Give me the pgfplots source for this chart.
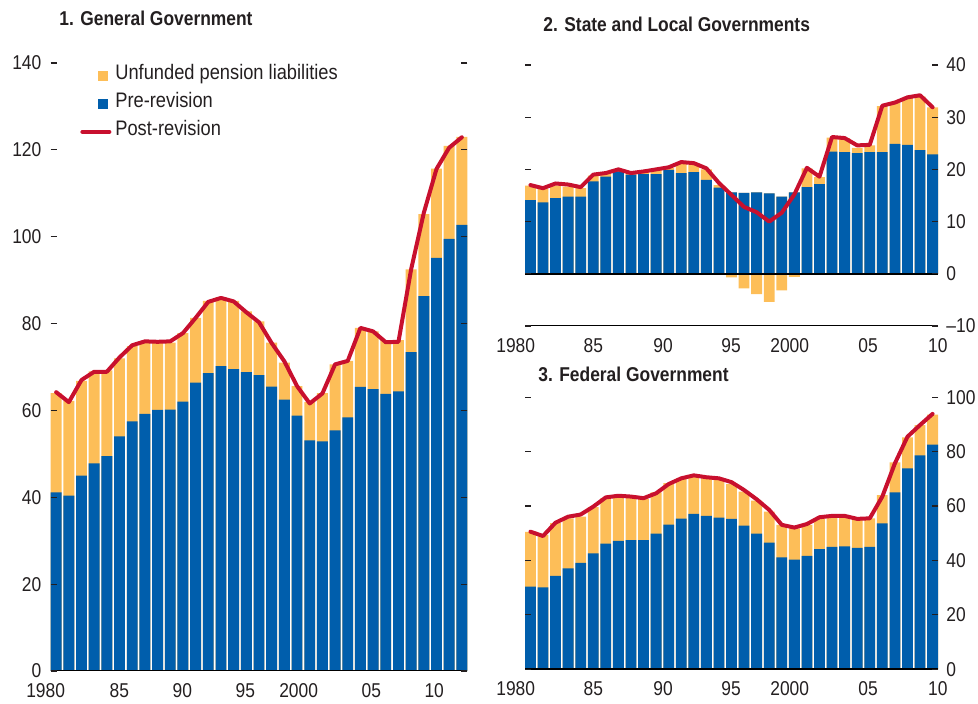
\documentclass[border=0pt]{standalone}
\usepackage{fontspec}
\setmainfont[FakeStretch=0.87]{Liberation Sans}
\usepackage{pgfplots}
\usepackage{pgfplotstable}
\pgfplotsset{compat=1.18}
\definecolor{imfblue}{RGB}{0,94,172}
\definecolor{imfyellow}{RGB}{253,190,88}
\definecolor{imfred}{RGB}{200,16,46}
\definecolor{txt}{RGB}{35,31,32}

% General government: pre-revision, top of bar (pre + unfunded), post-revision
\pgfplotstableread{
year pre top post
1980 41.1 64.0 64.2
1981 40.4 62.2 61.9
1982 45.0 66.8 67.0
1983 47.8 69.0 68.9
1984 49.5 69.2 68.9
1985 54.0 72.0 72.2
1986 57.5 74.8 75.0
1987 59.2 75.6 75.9
1988 60.1 75.6 75.8
1989 60.2 75.6 75.9
1990 62.0 77.8 77.8
1991 66.4 81.3 81.3
1992 68.6 85.2 85.0
1993 70.2 86.1 85.9
1994 69.5 85.2 85.1
1995 68.8 82.8 82.6
1996 68.1 80.5 80.3
1997 65.5 75.6 75.5
1998 62.5 71.0 71.3
1999 58.8 65.6 65.6
2000 53.1 61.9 61.6
2001 52.9 64.0 63.9
2002 55.4 70.6 70.6
2003 58.4 71.4 71.4
2004 65.4 79.0 79.0
2005 64.9 78.2 78.2
2006 63.8 76.2 75.7
2007 64.4 76.2 75.8
2008 73.4 92.5 92.5
2009 86.3 105.2 105.5
2010 95.1 115.7 115.6
2011 99.5 120.9 120.5
2012 102.7 123.0 122.9
}\dataA

% State and local: pre, top (pre + positive unfunded), negative unfunded, post
\pgfplotstableread{
year pre top neg post
1980 14.1 16.9 0 17.0
1981 13.7 16.3 0 16.4
1982 14.5 16.9 0 17.3
1983 14.8 16.7 0 17.1
1984 14.8 16.4 0 16.6
1985 17.7 18.8 0 19.0
1986 18.6 19.1 0 19.3
1987 19.6 19.8 0 20.0
1988 19.0 19.3 -0.2 19.3
1989 19.1 19.5 0 19.6
1990 19.1 19.9 0 20.0
1991 19.9 20.3 0 20.4
1992 19.3 21.1 0 21.4
1993 19.5 20.9 0 21.2
1994 18.0 20.0 0 20.2
1995 16.5 17.0 0 17.4
1996 15.6 15.6 -0.7 15.1
1997 15.5 15.5 -2.8 12.8
1998 15.6 15.6 -3.9 11.8
1999 15.4 15.4 -5.4 10.0
2000 14.8 14.8 -3.2 11.7
2001 15.6 15.6 -0.6 15.2
2002 16.6 20.2 0 20.3
2003 17.2 18.5 0 18.6
2004 23.4 26.1 0 26.2
2005 23.3 26.0 0 26.0
2006 23.1 24.1 0 24.6
2007 23.3 24.6 0 24.7
2008 23.3 32.1 0 32.2
2009 24.9 32.7 0 32.8
2010 24.7 33.7 0 33.8
2011 23.7 34.0 0 34.2
2012 22.9 31.9 0 31.9
}\dataB

% Federal government
\pgfplotstableread{
year pre top post
1980 30.4 50.5 50.6
1981 30.1 49.4 49.0
1982 34.3 53.7 53.9
1983 37.1 55.5 56.1
1984 39.1 56.1 56.9
1985 42.6 59.6 59.8
1986 46.2 62.9 63.2
1987 47.2 63.5 63.8
1988 47.5 63.1 63.5
1989 47.5 62.6 62.9
1990 49.9 65.0 64.7
1991 53.2 68.4 68.1
1992 55.4 70.2 70.2
1993 57.1 71.1 71.3
1994 56.4 70.2 70.6
1995 55.8 69.6 70.2
1996 55.3 68.1 68.8
1997 52.8 65.3 65.9
1998 49.9 62.0 62.5
1999 46.6 58.0 58.6
2000 41.1 53.1 53.1
2001 40.3 51.8 52.1
2002 41.7 53.1 53.4
2003 44.2 55.5 55.9
2004 45.0 56.1 56.4
2005 45.2 56.1 56.4
2006 44.6 54.9 55.3
2007 45.0 55.5 55.5
2008 53.6 64.0 63.5
2009 65.0 76.1 75.7
2010 73.9 85.3 85.5
2011 78.6 89.8 89.8
2012 82.6 93.6 93.9
}\dataC

\pgfplotsset{
  panel/.style={
    scale only axis,
    axis on top,
    axis line style={draw=none},
    xmin=1979.57, xmax=2012.43,
    ybar, bar width=0.86,
    major x tick style={draw=none},
    tick align=inside,
    major tick length=3pt,
    major y tick style={draw=txt, line width=0.6pt},
    /pgf/number format/assume math mode=true,
    tick label style={font=\fontsize{10}{12}\selectfont, text=txt},
    xticklabel style={anchor=north, inner sep=0pt, yshift=-6pt},
  },
  yel/.style={fill=imfyellow, draw=none, bar shift=0pt},
  blu/.style={fill=imfblue, draw=none, bar shift=0pt},
  redl/.style={imfred, line width=2pt, sharp plot, mark=none, line join=round, line cap=round},
}

\begin{document}
\begin{tikzpicture}
\useasboundingbox (0,0) rectangle (489pt,352pt);

% Panel 1
\begin{axis}[panel,
  at={(25.35pt,16.5pt)}, anchor=south west,
  width=208.3pt, height=304pt,
  ymin=0, ymax=140, ytick={0,20,...,140},
  yticklabels={0,20,40,60,80,100,120,140},
  yticklabel pos=left, ytick pos=both,
  yticklabel style={anchor=east, inner sep=0pt, xshift=-4.5pt},
  xtick={1980.70,1985.75,1990.71,1995.68,2000.65,2005.62,2010.58},
  xticklabels={\llap{1980},\llap{85},\llap{90},\llap{95},\llap{2000},\llap{05},\llap{10}},
  legend style={at={(axis description cs:0.0703,1.0025)}, anchor=north west,
    draw=none, fill=none, inner sep=0pt, row sep=0pt, column sep=2pt,
    font=\fontsize{10.5}{12}\selectfont, text=txt,
    cells={anchor=west},
    nodes={inner sep=0pt, text height=9pt, text depth=5pt}},
]
\addplot[yel, legend image code/.code={\fill[imfyellow] (8.5pt,-2.6pt) rectangle (13.5pt,2.4pt);}] table[x=year,y=top]{\dataA};
\addlegendentry{Unfunded pension liabilities}
\addplot[blu, legend image code/.code={\fill[imfblue] (8.5pt,-2.6pt) rectangle (13.5pt,2.4pt);}] table[x=year,y=pre]{\dataA};
\addlegendentry{Pre-revision}
\addplot[redl, legend image code/.code={\draw[imfred, line width=2pt, line cap=round] (0.5pt,0pt) -- (14pt,0pt);}] table[x=year,y=post]{\dataA};
\addlegendentry{Post-revision}
\draw[black, line width=0.8pt] (rel axis cs:0,0) -- (rel axis cs:1,0);
\end{axis}

% Panel 2
\begin{axis}[panel,
  at={(262.5pt,189pt)}, anchor=south west,
  width=206.5pt, height=130.5pt,
  ymin=-10, ymax=40, ytick={-10,0,...,40},
  yticklabels={\textendash10,0,10,20,30,40},
  yticklabel pos=right, ytick pos=both,
  yticklabel style={anchor=west, inner sep=0pt, xshift=4pt},
  xtick={1980.37,1985.78,1991.32,1996.73,2002.17,2007.63,2012.42},
  xticklabels={\llap{1980},\llap{85},\llap{90},\llap{95},\llap{2000},\llap{05},\makebox[0pt]{10}},
]
\addplot[yel] table[x=year,y=top]{\dataB};
\addplot[blu] table[x=year,y=pre]{\dataB};
\addplot[yel] table[x=year,y=neg]{\dataB};
\addplot[redl] table[x=year,y=post]{\dataB};
\draw[black, line width=0.8pt] (axis cs:1979.57,0) -- (axis cs:2012.43,0);
\draw[black, line width=0.8pt] (rel axis cs:0,0) -- (rel axis cs:1,0);
\end{axis}

% Panel 3
\begin{axis}[panel,
  at={(262.5pt,17.35pt)}, anchor=south west,
  width=206.5pt, height=136pt,
  ymin=0, ymax=100, ytick={0,20,...,100},
  yticklabels={0,20,40,60,80,100},
  yticklabel pos=right, ytick pos=both,
  yticklabel style={anchor=west, inner sep=0pt, xshift=4pt},
  xtick={1980.37,1985.78,1991.32,1996.73,2002.17,2007.63,2012.42},
  xticklabels={\llap{1980},\llap{85},\llap{90},\llap{95},\llap{2000},\llap{05},\makebox[0pt]{10}},
]
\addplot[yel] table[x=year,y=top]{\dataC};
\addplot[blu] table[x=year,y=pre]{\dataC};
\addplot[redl] table[x=year,y=post]{\dataC};
\draw[black, line width=0.8pt] (rel axis cs:0,0) -- (rel axis cs:1,0);
\end{axis}

\node[anchor=base west, inner sep=0pt, text=txt, font=\bfseries\fontsize{10}{12}\selectfont] at (29.5pt,339pt) {1. General Government};
\node[anchor=base west, inner sep=0pt, text=txt, font=\bfseries\fontsize{10}{12}\selectfont] at (271.5pt,336pt) {2. State and Local Governments};
\node[anchor=base west, inner sep=0pt, text=txt, font=\bfseries\fontsize{10}{12}\selectfont] at (269pt,161pt) {3. Federal Government};
\end{tikzpicture}
\end{document}
